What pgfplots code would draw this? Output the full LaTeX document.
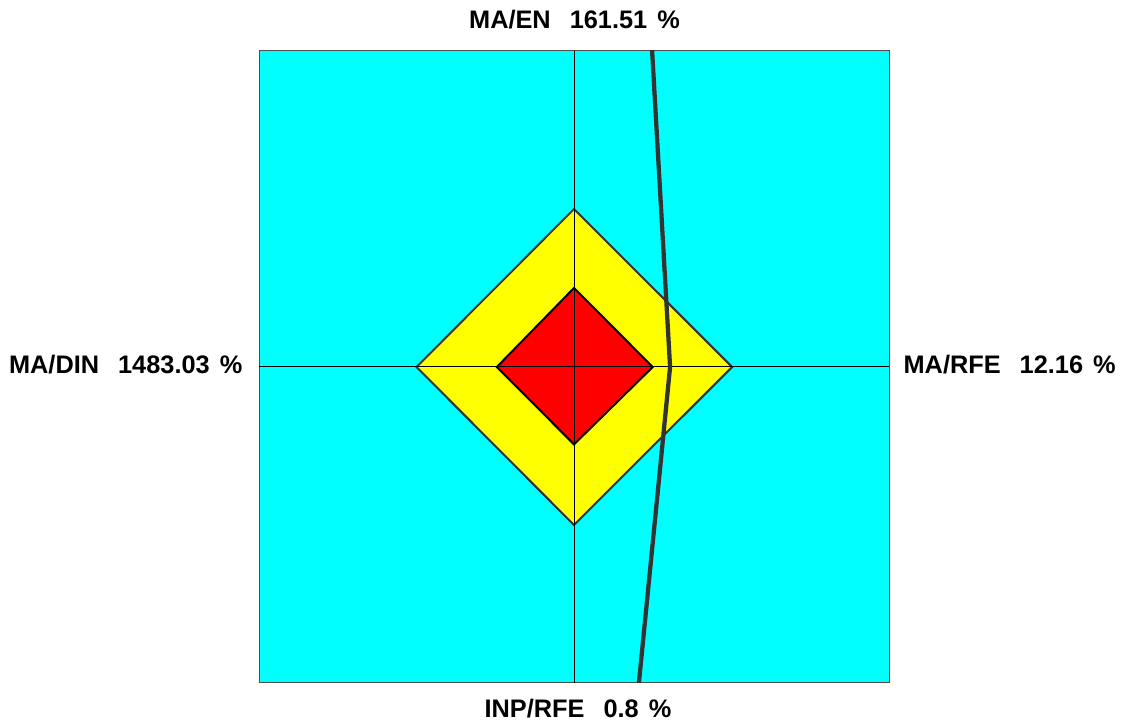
\documentclass[border=0pt]{standalone}
\usepackage{pgfplots}
\pgfplotsset{compat=1.18}
\usepackage{fontspec}
\setmainfont{Liberation Sans}
\definecolor{cy}{RGB}{0,255,255}
\definecolor{ye}{RGB}{255,255,0}
\definecolor{re}{RGB}{255,0,0}
\definecolor{dk}{RGB}{51,51,51}
\begin{document}
\begin{tikzpicture}
\path[use as bounding box] (0,0) rectangle (840.75pt,542.25pt);
\begin{axis}[
  at={(194.25pt,30pt)}, anchor=south west,
  width=472.5pt, height=474pt, scale only axis,
  xmin=-1, xmax=1, ymin=-1, ymax=1,
  ticks=none,
  axis line style={draw=gray!60!black, line width=0.75pt},
  axis background/.style={fill=cy},
  clip=true,
]
\addplot[fill=ye, draw=dk, line width=1.5pt] coordinates {(0.502,0) (0,0.5) (-0.5,0) (0,-0.5) (0.502,0)} -- cycle;
\addplot[fill=re, draw=black, line width=1.5pt] coordinates {(0.25,0) (0,0.25) (-0.245,0) (0,-0.245) (0.25,0)} -- cycle;
\addplot[black, line width=0.75pt] coordinates {(-1,0) (1,0)};
\addplot[black, line width=0.75pt] coordinates {(0,-1) (0,1)};
\addplot[dk, line width=3.2pt] coordinates {(0.250,1.02) (0.248,1) (0.305,0) (0.206,-1) (0.205,-1.02)};
\end{axis}
\begin{scope}[every node/.style={font=\fontsize{19}{22}\selectfont\bfseries, inner sep=0pt}]
\node[anchor=base] at (430.9pt,520.5pt) {MA/EN\hspace{0.75em}161.51\hspace{0.4em}\%};
\node[anchor=base east] at (182pt,261.75pt) {MA/DIN\hspace{0.75em}1483.03\hspace{0.4em}\%};
\node[anchor=base west] at (677.5pt,261.75pt) {MA/RFE\hspace{0.75em}12.16\hspace{0.4em}\%};
\node[anchor=base] at (433.5pt,3.75pt) {INP/RFE\hspace{0.75em}0.8\hspace{0.4em}\%};
\end{scope}
\end{tikzpicture}
\end{document}
